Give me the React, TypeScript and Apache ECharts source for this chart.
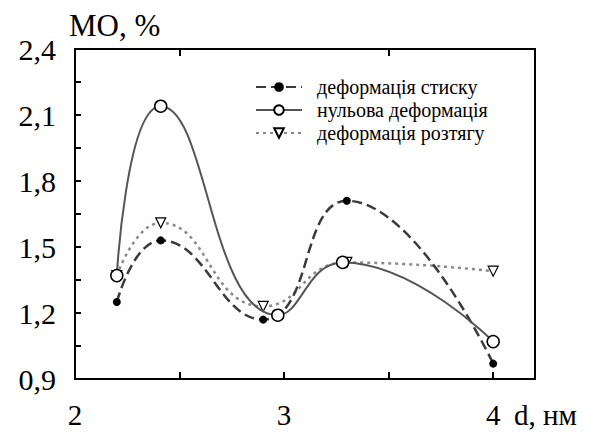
import React, { useEffect, useRef } from "react";
import * as echarts from "echarts";

// thickness d, nm
const dCompression = [2.2, 2.41, 2.9, 3.3, 4.0];
const moCompression = [1.25, 1.53, 1.17, 1.71, 0.97];

const dZero = [2.2, 2.41, 2.97, 3.28, 4.0];
const moZero = [1.37, 2.14, 1.19, 1.43, 1.07];

const dTension = [2.2, 2.41, 2.9, 3.3, 4.0];
const moTension = [1.37, 1.61, 1.23, 1.43, 1.39];

const seriesNames = ["деформація стиску", "нульова деформація", "деформація розтягу"];

const yLabels = [0.9, 1.2, 1.5, 1.8, 2.1, 2.4];
const yTicks = [0.9, 1.05, 1.2, 1.35, 1.5, 1.65, 1.8, 1.95, 2.1, 2.25, 2.4];
const xLabels = [2, 3, 4];
const xTicks = [2.5, 3, 3.5, 4];
const xTopTicks = [2.5, 3.5];

const pairs = (xs: number[], ys: number[]) => xs.map((x, i) => [x, ys[i]]);
const serif = "Liberation Serif";

export default function App() {
  const ref = useRef<HTMLDivElement>(null);

  useEffect(() => {
    document.body.style.margin = "0";
    if (!ref.current) return;
    const chart = echarts.init(ref.current, null, { renderer: "svg" });
    chart.setOption({
      animation: false,
      backgroundColor: "#fff",
      textStyle: { fontFamily: serif },
      grid: {
        left: 75,
        right: 65,
        top: 49,
        bottom: 55,
        show: true,
        borderColor: "#000",
        borderWidth: 2,
      },
      legend: {
        orient: "vertical",
        left: 250,
        top: 72,
        itemWidth: 46,
        itemHeight: 12,
        itemGap: 3,
        textStyle: {
          fontFamily: serif,
          fontSize: 20,
          lineHeight: 20,
          color: "#000",
          padding: [0, 0, 0, 10],
        },
        data: [seriesNames[0], seriesNames[1], seriesNames[2]],
      },
      xAxis: [
        {
          type: "value",
          min: 2,
          max: 4.2,
          name: "d, нм",
          nameLocation: "end",
          nameGap: -21,
          nameTextStyle: {
            fontFamily: serif,
            fontSize: 29,
            color: "#000",
            align: "left",
            verticalAlign: "top",
            padding: [21, 0, 0, 0],
          },
          splitLine: { show: false },
          axisLine: { onZero: false, lineStyle: { color: "#000", width: 2 } },
          axisTick: {
            inside: true,
            length: 7,
            lineStyle: { color: "#000", width: 2 },
            customValues: xTicks,
          },
          axisLabel: {
            customValues: xLabels,
            fontFamily: serif,
            fontSize: 29,
            color: "#000",
            margin: 21,
          },
        },
        {
          type: "value",
          position: "top",
          min: 2,
          max: 4.2,
          splitLine: { show: false },
          axisLine: { onZero: false, lineStyle: { color: "#000", width: 2 } },
          axisTick: {
            inside: true,
            length: 7,
            lineStyle: { color: "#000", width: 2 },
            customValues: xTopTicks,
          },
          axisLabel: { show: false },
        },
      ],
      yAxis: {
        type: "value",
        min: 0.9,
        max: 2.4,
        name: "МО, %",
        nameLocation: "end",
        nameGap: 8,
        nameTextStyle: {
          fontFamily: serif,
          fontSize: 31,
          color: "#000",
          align: "left",
          padding: [0, 0, 0, -6],
        },
        splitLine: { show: false },
        axisLine: { onZero: false, lineStyle: { color: "#000", width: 2 } },
        axisTick: {
          inside: true,
          length: 6,
          lineStyle: { color: "#000", width: 2 },
          customValues: yTicks,
        },
        axisLabel: {
          customValues: yLabels,
          fontFamily: serif,
          fontSize: 30,
          color: "#000",
          margin: 19,
          formatter: (v: number) => v.toFixed(1).replace(".", ","),
        },
      },
      series: [
        {
          name: seriesNames[2],
          type: "line",
          data: pairs(dTension, moTension),
          smooth: 0.5,
          z: 2,
          symbol: "triangle",
          symbolRotate: 180,
          symbolSize: 10,
          lineStyle: { color: "#8a8a8a", width: 2.5, type: [3, 4] },
          itemStyle: { color: "#fff", borderColor: "#000", borderWidth: 1.2 },
        },
        {
          name: seriesNames[0],
          type: "line",
          data: pairs(dCompression, moCompression),
          smooth: 0.5,
          z: 3,
          symbol: "circle",
          symbolSize: 8,
          lineStyle: { color: "#3a3a3a", width: 2.5, type: [10, 5] },
          itemStyle: { color: "#000", borderColor: "#000", borderWidth: 0 },
        },
        {
          name: seriesNames[1],
          type: "line",
          data: pairs(dZero, moZero),
          smooth: 0.5,
          z: 4,
          symbol: "circle",
          symbolSize: 12,
          lineStyle: { color: "#555", width: 2 },
          itemStyle: { color: "#fff", borderColor: "#000", borderWidth: 1.5 },
        },
      ],
    });
    return () => chart.dispose();
  }, []);

  return <div ref={ref} style={{ width: 600, height: 434 }} />;
}
